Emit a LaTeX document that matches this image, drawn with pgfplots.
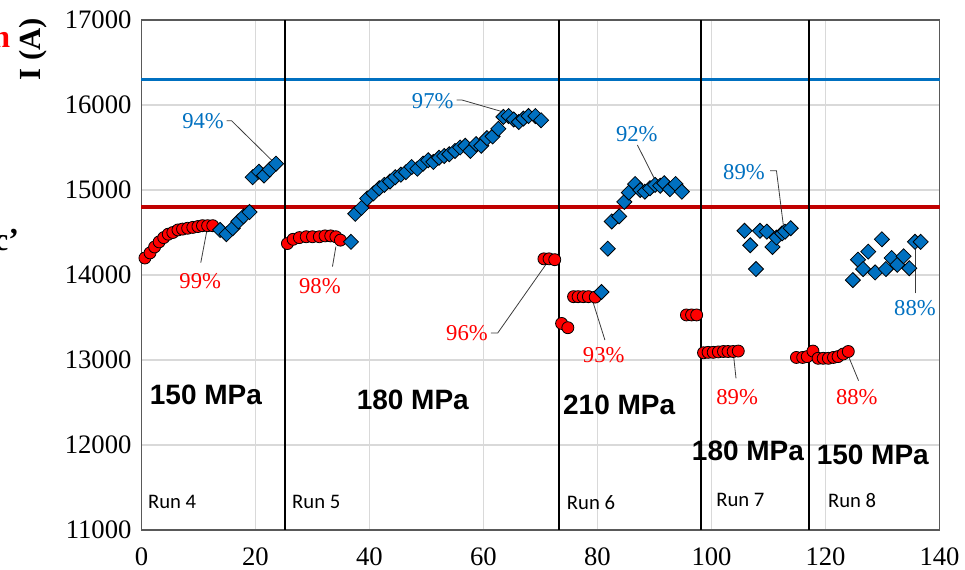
\documentclass[border=0pt]{standalone}
\usepackage{pgfplots}
\pgfplotsset{compat=1.18}
\usepackage{fontspec}
\setmainfont{Liberation Serif}
\newfontfamily\arialfont{Liberation Sans}
\newfontfamily\calibfont{Carlito}
\definecolor{myblue}{RGB}{0,112,192}
\definecolor{myred}{RGB}{255,0,0}
\definecolor{darkred}{RGB}{192,0,0}
\definecolor{leader}{RGB}{60,60,60}
\begin{document}
\begin{tikzpicture}
\begin{axis}[name=ax,
  scale only axis, width=598.5pt, height=382.5pt,
  xmin=0, xmax=140, ymin=11000, ymax=17000,
  xtick={0,20,...,140}, ytick={11000,12000,...,17000},
  scaled ticks=false,
  /pgf/number format/1000 sep={}, /pgf/number format/assume math mode=true,
  tick label style={font=\fontsize{20}{24}\selectfont},
  yticklabel style={xshift=-4pt},
  xticklabel style={yshift=-10pt},
  major tick length=0pt,
  grid=major, major grid style={draw=gray!30, line width=0.8pt},
  axis line style={draw=gray!70!black, line width=1pt},
  clip=false,
]
% reference lines
\addplot[myblue, line width=2.25pt] coordinates {(0,16300)(140,16300)};
\addplot[darkred, line width=3pt] coordinates {(0,14800)(140,14800)};
% separators
\addplot[black, line width=1.6pt] coordinates {(25.2,11000)(25.2,17000)};
\addplot[black, line width=1.6pt] coordinates {(73.2,11000)(73.2,17000)};
\addplot[black, line width=1.6pt] coordinates {(98.2,11000)(98.2,17000)};
\addplot[black, line width=1.6pt] coordinates {(117.1,11000)(117.1,17000)};
% red circles
\addplot[only marks, mark=*, mark size=4.5pt, mark options={fill=myred, draw=black, line width=0.6pt}] coordinates {
(0.6,14200)(1.5,14260)(2.3,14330)(3.1,14390)(3.9,14440)(4.7,14480)(5.5,14500)(6.4,14530)(7.2,14540)(8.1,14550)(9.0,14560)(9.9,14570)(10.7,14580)(11.6,14580)(12.5,14580)
(25.6,14370)(26.6,14420)(27.7,14440)(28.9,14450)(30.0,14450)(31.2,14450)(32.2,14460)(33.2,14460)(34.1,14450)(34.9,14410)
(70.6,14190)(71.5,14190)(72.5,14180)(73.7,13430)(74.8,13380)(75.8,13745)(76.6,13745)(77.5,13745)(78.4,13745)(79.6,13740)
(95.6,13530)(96.5,13530)(97.4,13530)
(98.6,13085)(99.4,13090)(100.3,13090)(101.2,13095)(102.1,13100)(102.9,13100)(103.8,13100)(104.7,13105)
(114.9,13030)(116.0,13030)(116.8,13040)(117.8,13105)(118.7,13020)(119.6,13020)(120.5,13020)(121.4,13030)(122.2,13040)(123.1,13070)(124.0,13100)
};
% blue diamonds
\addplot[only marks, mark=square*, mark size=4pt, mark options={fill=myblue, draw=black, line width=0.6pt, rotate=45}] coordinates {
(13.8,14530)(14.9,14480)(16.0,14550)(17.0,14630)(17.9,14690)(18.95,14740)
(19.5,15150)(20.6,15215)(21.5,15170)(22.5,15240)(23.6,15310)
(36.75,14390)
(37.5,14720)(38.6,14790)(39.6,14900)(40.7,14960)(41.7,15020)(42.6,15060)(43.6,15100)(44.5,15150)(45.5,15180)(46.4,15210)(47.4,15270)(48.4,15250)(49.4,15310)(50.3,15350)(51.2,15330)(52.2,15380)(53.1,15400)(54.0,15420)(55.0,15460)(55.9,15500)(56.8,15520)(57.7,15460)(58.7,15540)(59.6,15520)(60.6,15610)(61.6,15630)(62.6,15720)(63.5,15860)(64.4,15870)(65.3,15830)(66.2,15800)(67.0,15840)(67.9,15870)(69.1,15870)(70.1,15820)
(80.7,13800)(81.8,14310)(82.5,14630)(83.8,14690)(84.7,14860)(85.5,14970)(86.6,15070)(87.5,15000)(88.3,14980)(89.2,15020)(90.1,15060)(91.0,15050)(91.7,15080)(92.7,15010)(93.7,15070)(94.8,14980)
(105.8,14520)(106.8,14350)(107.8,14070)(108.5,14520)(109.7,14510)(110.7,14330)(111.4,14440)(112.4,14490)(112.9,14510)(113.9,14550)
(124.8,13940)(125.7,14180)(126.6,14070)(127.5,14275)(128.7,14030)(129.9,14420)(130.6,14070)(131.6,14200)(132.6,14120)(133.7,14220)(134.7,14080)(135.7,14390)(136.7,14390)
};
% leader lines
\draw[leader, line width=0.6pt] (axis cs:14.95,15815) -- (axis cs:15.8,15815) -- (axis cs:23.1,15333);
\draw[leader, line width=0.6pt] (axis cs:10.4,14145) -- (axis cs:11.6,14568);
\draw[leader, line width=0.6pt] (axis cs:33.5,14098) -- (axis cs:34.1,14333);
\draw[leader, line width=0.6pt] (axis cs:55.3,16059) -- (axis cs:56.2,16059) -- (axis cs:64.3,15902);
\draw[leader, line width=0.6pt] (axis cs:61.3,13318) -- (axis cs:62.5,13318) -- (axis cs:71.3,14157);
\draw[leader, line width=0.6pt] (axis cs:81.3,13235) -- (axis cs:79.0,13726);
\draw[leader, line width=0.6pt] (axis cs:87.0,15529) -- (axis cs:90.1,15118);
\draw[leader, line width=0.6pt] (axis cs:110.3,15227) -- (axis cs:111.4,15227) -- (axis cs:112.6,14588);
\draw[leader, line width=0.6pt] (axis cs:104.3,12784) -- (axis cs:103.8,13098);
\draw[leader, line width=0.6pt] (axis cs:125.8,12757) -- (axis cs:123.7,13098);
\draw[leader, line width=0.6pt] (axis cs:135.8,13785) -- (axis cs:135.8,14373);
% percent labels
\begin{scope}[every node/.style={font=\fontsize{17}{20}\selectfont, inner sep=0pt}]
\node[text=myblue] at (axis cs:10.8,15812) {94\%};
\node[text=myred] at (axis cs:10.3,13929) {99\%};
\node[text=myred] at (axis cs:31.3,13871) {98\%};
\node[text=myblue] at (axis cs:51.1,16047) {97\%};
\node[text=myred] at (axis cs:57.1,13318) {96\%};
\node[text=myred] at (axis cs:81.1,13059) {93\%};
\node[text=myblue] at (axis cs:86.9,15659) {92\%};
\node[text=myblue] at (axis cs:105.7,15212) {89\%};
\node[text=myred] at (axis cs:104.5,12565) {89\%};
\node[text=myred] at (axis cs:125.5,12565) {88\%};
\node[text=myblue] at (axis cs:135.7,13612) {88\%};
\end{scope}
% pressure labels
\begin{scope}[every node/.style={font=\arialfont\bfseries\fontsize{21}{25}\selectfont, inner sep=0pt}]
\node at (axis cs:11.3,12588) {150 MPa};
\node at (axis cs:47.6,12529) {180 MPa};
\node at (axis cs:83.8,12471) {210 MPa};
\node at (axis cs:106.4,11929) {180 MPa};
\node at (axis cs:128.3,11882) {150 MPa};
\end{scope}
% run labels
\begin{scope}[every node/.style={font=\calibfont\fontsize{15.5}{18}\selectfont, inner sep=0pt, anchor=west}]
\node at (axis cs:1.1,11329) {Run 4};
\node at (axis cs:26.4,11329) {Run 5};
\node at (axis cs:74.6,11320) {Run 6};
\node at (axis cs:100.8,11350) {Run 7};
\node at (axis cs:120.4,11350) {Run 8};
\end{scope}
% y label
\node[rotate=90, anchor=east, inner sep=0pt, font=\bfseries\fontsize{23}{27}\selectfont] at (axis cs:-19.0,17024) {I (A)};
% cut-off marks at the left edge
\node[text=myred, inner sep=0pt, font=\bfseries\fontsize{24}{28}\selectfont] at (axis cs:-24.6,16765) {n};
\node[anchor=base west, inner sep=0pt, font=\bfseries\fontsize{24}{28}\selectfont] at (axis cs:-25.9,14294) {c’};
\end{axis}
\pgfresetboundingbox
\path ([shift={(-106.125pt,-30pt)}]ax.south west) rectangle ([shift={(19.125pt,15pt)}]ax.north east);
\end{tikzpicture}
\end{document}
